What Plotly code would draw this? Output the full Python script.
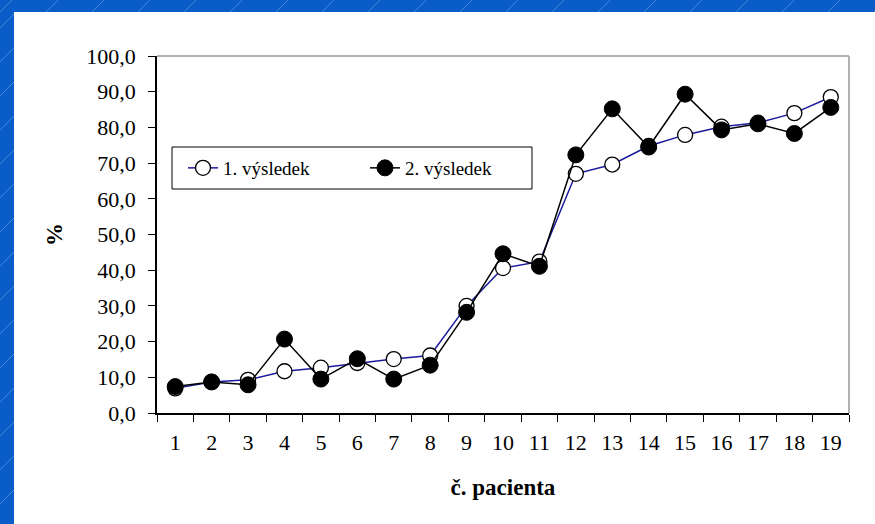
import plotly.graph_objects as go

# Patients and their two measured results (%)
patients = [str(i) for i in range(1, 20)]
result_1 = [6.9, 8.7, 9.3, 11.7, 12.7, 14.0, 15.1, 16.1, 30.0, 40.6,
            42.4, 67.0, 69.6, 74.8, 77.9, 80.2, 81.3, 84.0, 88.5]
result_2 = [7.4, 8.7, 7.9, 20.7, 9.5, 15.2, 9.5, 13.4, 28.2, 44.6,
            41.1, 72.3, 85.2, 74.5, 89.3, 79.3, 81.0, 78.3, 85.6]
y_ticks = [0, 10, 20, 30, 40, 50, 60, 70, 80, 90, 100]

W, H = 875, 524
L, R, T, B = 157, 849, 56, 413
SERIF = "Liberation Serif"
BLUE_BG = "#0a5cc8"


def px(x):
    return (x - L) / (R - L)


def py(y):
    return (B - y) / (B - T)


fig = go.Figure()
fig.add_trace(go.Scatter(
    x=patients, y=result_1, mode="lines+markers", name="1. výsledek",
    line=dict(color="#1a1a9c", width=1.5),
    marker=dict(symbol="circle", size=15, color="white",
                line=dict(color="black", width=1.3)),
))
fig.add_trace(go.Scatter(
    x=patients, y=result_2, mode="lines+markers", name="2. výsledek",
    line=dict(color="black", width=1.5),
    marker=dict(symbol="circle", size=16, color="black",
                line=dict(color="black", width=1)),
))

shapes = []
# white page over the blue frame
shapes.append(dict(type="rect", xref="paper", yref="paper", layer="below",
                   x0=px(14), x1=px(W + 5), y0=py(H + 5), y1=py(12),
                   fillcolor="white", line=dict(width=0)))
# faint diagonal texture on the blue frame
for yy in range(-20, H + 20, 34):
    shapes.append(dict(type="line", xref="paper", yref="paper", layer="below",
                       x0=px(0), y0=py(yy + 14), x1=px(14), y1=py(yy),
                       line=dict(color="rgba(255,255,255,0.25)", width=1)))
for xx in range(0, W + 20, 46):
    shapes.append(dict(type="line", xref="paper", yref="paper", layer="below",
                       x0=px(xx), y0=py(12), x1=px(xx + 12), y1=py(0),
                       line=dict(color="rgba(255,255,255,0.25)", width=1)))
# grey top and right border of the plot area
shapes.append(dict(type="line", xref="paper", yref="paper",
                   x0=0, y0=1, x1=1, y1=1,
                   line=dict(color="#9a9a9a", width=1.5)))
shapes.append(dict(type="line", xref="paper", yref="paper",
                   x0=1, y0=0, x1=1, y1=1,
                   line=dict(color="#9a9a9a", width=1.5)))
# legend frame
shapes.append(dict(type="rect", xref="paper", yref="paper", layer="above",
                   x0=px(172), x1=px(532), y0=py(189), y1=py(147),
                   fillcolor="white", line=dict(color="black", width=1)))

fig.update_layout(
    width=W, height=H,
    margin=dict(l=L, r=W - R, t=T, b=H - B),
    paper_bgcolor=BLUE_BG,
    plot_bgcolor="white",
    separators=", ",
    font=dict(family=SERIF, color="black", size=22),
    shapes=shapes,
    showlegend=True,
    legend=dict(
        orientation="h", x=px(183), y=py(168), xanchor="left", yanchor="middle",
        bgcolor="rgba(0,0,0,0)", borderwidth=0,
        font=dict(family=SERIF, size=19, color="black"),
        entrywidth=137, entrywidthmode="pixels",
        itemsizing="trace",
    ),
    xaxis=dict(
        type="category", range=[-0.5, len(patients) - 0.5],
        tickson="boundaries", ticks="outside", ticklen=7,
        tickcolor="black", tickwidth=1.2, showline=True, linecolor="black",
        linewidth=1.5, showgrid=False, zeroline=False,
        ticklabelstandoff=9,
        tickfont=dict(family=SERIF, size=22),
        title=dict(text="<b>č. pacienta</b>", standoff=25,
                   font=dict(family=SERIF, size=23)),
    ),
    yaxis=dict(
        range=[0, 100], tickvals=y_ticks, tickformat=".1f",
        ticks="outside", ticklen=7, tickcolor="black", tickwidth=1.2,
        showline=True, linecolor="black", linewidth=1.5,
        showgrid=False, zeroline=False, ticklabelstandoff=8,
        tickfont=dict(family=SERIF, size=22),
        title=dict(text="<b>%</b>", standoff=17,
                   font=dict(family=SERIF, size=23)),
    ),
)

fig.write_html("out.html")
